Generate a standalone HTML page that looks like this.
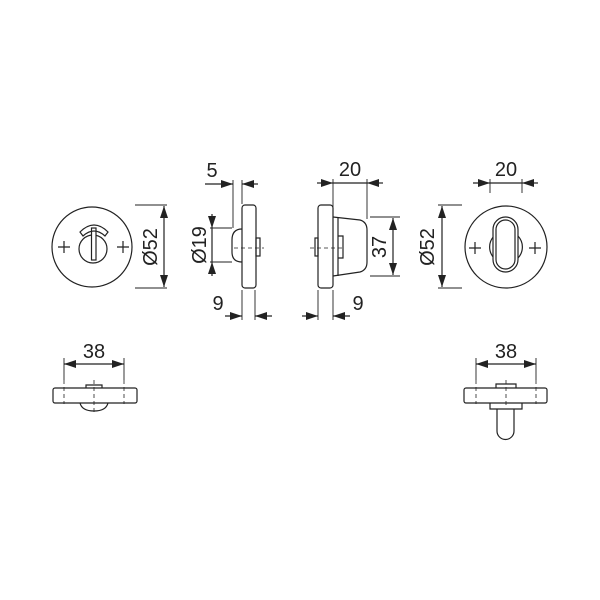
<!DOCTYPE html>
<html><head><style>html,body{margin:0;padding:0;background:#fff}svg{display:block}</style></head>
<body>
<svg width="600" height="600" viewBox="0 0 600 600" xmlns="http://www.w3.org/2000/svg" font-family="Liberation Sans, sans-serif" font-size="20" fill="none" stroke="#222" stroke-width="1.2">
<defs>
<marker id="a" viewBox="0 0 12 8" refX="12" refY="4" markerWidth="12" markerHeight="8" markerUnits="userSpaceOnUse" orient="auto-start-reverse"><path d="M0,0 L12,4 L0,8 z" fill="#222" stroke="none"/></marker>
</defs>

<!-- LEFT FRONT VIEW -->
<circle cx="92" cy="247" r="40"/>
<circle cx="93" cy="249" r="14"/>
<rect x="91.5" y="228" width="4.5" height="32" fill="#fff"/>
<path d="M80,232 Q94,218 108,232 L105,236 Q94,226 83,236 Z"/>
<path d="M58,247h12M64,241v12M117,247h12M123,241v12"/>
<!-- Ø52 left -->
<path d="M135,205h32M135,288h32" stroke-width="0.9"/>
<line x1="164" y1="206" x2="164" y2="287" marker-start="url(#a)" marker-end="url(#a)"/>
<text x="151" y="247" transform="rotate(-90 151 247)" text-anchor="middle" dominant-baseline="central" fill="#222" stroke="none">Ø52</text>

<!-- LEFT SIDE VIEW -->
<rect x="242" y="205" width="14" height="83" rx="3"/>
<path d="M242,229 Q232,229 232,240 V252 Q232,262 242,262"/>
<rect x="256" y="238" width="4" height="18"/>
<path d="M234,248h30" stroke-dasharray="4,3" stroke-width="0.8"/>
<!-- 5 -->
<path d="M233,180v48M242,180v24" stroke-width="0.9"/>
<line x1="205" y1="184" x2="233" y2="184" marker-end="url(#a)"/>
<line x1="258" y1="184" x2="242" y2="184" marker-end="url(#a)"/>
<text x="212" y="177" text-anchor="middle" fill="#222" stroke="none">5</text>
<!-- Ø19 -->
<path d="M210,228h22M210,262h22" stroke-width="0.9"/>
<line x1="212" y1="214" x2="212" y2="228" marker-end="url(#a)"/>
<line x1="212" y1="276" x2="212" y2="262" marker-end="url(#a)"/>
<line x1="212" y1="228" x2="212" y2="262"/>
<text x="200" y="245" transform="rotate(-90 200 245)" text-anchor="middle" dominant-baseline="central" fill="#222" stroke="none">Ø19</text>
<!-- 9 -->
<path d="M242,290v30M255,290v30" stroke-width="0.9"/>
<line x1="225" y1="316" x2="242" y2="316" marker-end="url(#a)"/>
<line x1="272" y1="316" x2="255" y2="316" marker-end="url(#a)"/>
<text x="218" y="310" text-anchor="middle" fill="#222" stroke="none">9</text>

<!-- RIGHT SIDE VIEW -->
<rect x="318" y="205" width="15" height="83" rx="3"/>
<path d="M333,217 L360,220 Q367,222 367,230 V262 Q367,270 360,272 L333,276"/>
<path d="M338,217v59M338,236h5v22h-5"/>
<rect x="315" y="238" width="3" height="18"/>
<path d="M310,248h34" stroke-dasharray="4,3" stroke-width="0.8"/>
<!-- 20 -->
<path d="M333,179v38M367,179v40" stroke-width="0.9"/>
<line x1="317" y1="183" x2="333" y2="183" marker-end="url(#a)"/>
<line x1="383" y1="183" x2="367" y2="183" marker-end="url(#a)"/>
<line x1="333" y1="183" x2="367" y2="183"/>
<text x="350" y="176" text-anchor="middle" fill="#222" stroke="none">20</text>
<!-- 37 -->
<path d="M370,217h30M370,276h30" stroke-width="0.9"/>
<line x1="393" y1="218" x2="393" y2="275" marker-start="url(#a)" marker-end="url(#a)"/>
<text x="380" y="247" transform="rotate(-90 380 247)" text-anchor="middle" dominant-baseline="central" fill="#222" stroke="none">37</text>
<!-- 9 -->
<path d="M318,290v30M333,290v30" stroke-width="0.9"/>
<line x1="302" y1="316" x2="318" y2="316" marker-end="url(#a)"/>
<line x1="350" y1="316" x2="333" y2="316" marker-end="url(#a)"/>
<text x="358" y="310" text-anchor="middle" fill="#222" stroke="none">9</text>

<!-- RIGHT FRONT VIEW -->
<circle cx="506" cy="247" r="41"/>
<path d="M494,236 A16,16 0 0 0 494,258 M518,236 A16,16 0 0 1 518,258"/>
<rect x="493" y="217" width="25" height="55" rx="12.5" fill="#fff"/>
<rect x="496" y="220" width="19" height="49" rx="9.5"/>
<path d="M469,248h12M475,242v12M529,248h12M535,242v12"/>
<!-- Ø52 right -->
<path d="M438,205h24M438,288h24" stroke-width="0.9"/>
<line x1="442" y1="206" x2="442" y2="287" marker-start="url(#a)" marker-end="url(#a)"/>
<text x="428" y="247" transform="rotate(-90 428 247)" text-anchor="middle" dominant-baseline="central" fill="#222" stroke="none">Ø52</text>
<!-- 20 -->
<path d="M490,179v14M522,179v14" stroke-width="0.9"/>
<line x1="473" y1="183" x2="490" y2="183" marker-end="url(#a)"/>
<line x1="538" y1="183" x2="522" y2="183" marker-end="url(#a)"/>
<line x1="490" y1="183" x2="522" y2="183"/>
<text x="506" y="176" text-anchor="middle" fill="#222" stroke="none">20</text>

<!-- BOTTOM LEFT -->
<rect x="53" y="388" width="84" height="15" rx="2"/>
<path d="M80,403 Q82,411 94,411 Q106,411 108,403"/>
<path d="M86,388v-3h16v3"/>
<path d="M64,380v24M124,380v24M94,380v34" stroke-dasharray="4,3" stroke-width="0.8"/>
<line x1="64" y1="364" x2="124" y2="364" marker-start="url(#a)" marker-end="url(#a)"/>
<path d="M64,358v22M124,358v22" stroke-width="0.9"/>
<text x="94" y="358" text-anchor="middle" fill="#222" stroke="none">38</text>

<!-- BOTTOM RIGHT -->
<rect x="464" y="388" width="83" height="15" rx="2"/>
<path d="M496,388v-4h20v4"/>
<path d="M490,403v6h32v-6"/>
<path d="M497,409v22a8.5,8.5 0 0 0 17,0v-22"/>
<path d="M476,380v24M536,380v24M506,380v28" stroke-dasharray="4,3" stroke-width="0.8"/>
<line x1="476" y1="364" x2="536" y2="364" marker-start="url(#a)" marker-end="url(#a)"/>
<path d="M476,358v22M536,358v22" stroke-width="0.9"/>
<text x="506" y="358" text-anchor="middle" fill="#222" stroke="none">38</text>
</svg>
</body></html>
